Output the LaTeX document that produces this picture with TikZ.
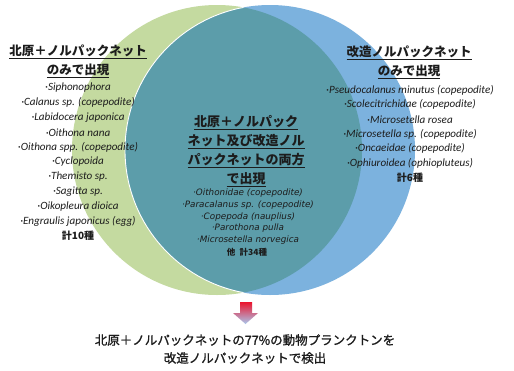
\documentclass[tikz,border=0pt]{standalone}
\usepackage{fontspec}
\setmainfont{Carlito}
\newfontfamily\jp{Noto Sans CJK JP}
\newfontfamily\jpm{Noto Sans CJK JP}[FakeBold=1.2]
\newfontfamily\cenit{DejaVu Sans}
\definecolor{greenc}{RGB}{196,218,160}
\definecolor{bluec}{RGB}{124,178,222}
\definecolor{tealc}{RGB}{92,157,170}
\definecolor{txt}{RGB}{28,28,28}
\definecolor{arrowtop}{RGB}{235,20,45}
\definecolor{arrowbot}{RGB}{170,200,238}
\tikzset{
  ttl/.style={inner sep=0pt, text=txt, font=\jp\bfseries\fontsize{12.5}{14}\selectfont},
  cttl/.style={inner sep=0pt, text=txt, font=\jp\bfseries\fontsize{13}{15}\selectfont},
  lst/.style={inner sep=0pt, text=txt, font=\itshape\fontsize{11.1}{12}\selectfont},
  clst/.style={inner sep=0pt, text=txt, font=\cenit\itshape\fontsize{8.8}{10}\selectfont},
  tot/.style={inner sep=0pt, text=txt, font=\jp\bfseries\fontsize{10}{12}\selectfont},
  ctot/.style={inner sep=0pt, text=txt, font=\jp\bfseries\fontsize{8.5}{10}\selectfont},
  btm/.style={inner sep=0pt, text=txt, font=\jpm\fontsize{12.5}{14}\selectfont},
}
\begin{document}
\begin{tikzpicture}[x=1pt,y=-1pt]
\useasboundingbox (0,0) rectangle (514,370);
\fill[white] (0,0) rectangle (514,370);
% circles
\fill[greenc] (217,150) circle (145pt);
\fill[bluec] (270,150) circle (145pt);
\begin{scope}
  \clip (217,150) circle (145pt);
  \fill[tealc] (270,150) circle (145pt);
  \draw[white, line width=0.9pt] (270,150) circle (145pt);
\end{scope}
% left group
\node[ttl] (lt1) at (78,52) {\underline{北原＋ノルパックネット}};
\node[ttl] (lt2) at (78,71) {\underline{のみで出現}};
\foreach \t [count=\i] in {{·Siphonophora},{·Calanus sp. (copepodite)},{·Labidocera japonica},{·Oithona nana},{·Oithona spp. (copepodite)},{·Cyclopoida},{·Themisto sp.},{·Sagitta sp.},{·Oikopleura dioica},{·Engraulis japonicus (egg)}}
  \node[lst] (ll\i) at (78,{88+14.8*(\i-1)}) {\t};
\node[tot] (ltot) at (78,236) {計10種};
% right group
\node[ttl] (rt1) at (409,53) {\underline{改造ノルパックネット}};
\node[ttl] (rt2) at (409,72) {\underline{のみで出現}};
\foreach \t [count=\i] in {{·Pseudocalanus minutus (copepodite)},{·Scolecitrichidae (copepodite)},{·Microsetella rosea},{·Microsetella sp. (copepodite)},{·Oncaeidae (copepodite)},{·Ophiuroidea (ophiopluteus)}}
  \node[lst] (rl\i) at (410,{90+14.7*(\i-1)}) {\t};
\node[tot] (rtot) at (410,178) {計6種};
% center group
\node[cttl] (ct1) at (246,123) {\underline{北原＋ノルパック}};
\node[cttl] (ct2) at (246,142) {\underline{ネット及び改造ノル}};
\node[cttl] (ct3) at (246,161) {\underline{パックネットの両方}};
\node[cttl] (ct4) at (246,180) {\underline{で出現}};
\foreach \t [count=\i] in {{·Oithonidae (copepodite)},{·Paracalanus sp. (copepodite)},{·Copepoda (nauplius)},{·Parothona pulla},{·Microsetella norvegica}}
  \node[clst] (cl\i) at (248,{193+11.8*(\i-1)}) {\t};
\node[ctot] (ctot) at (247,252) {他\hspace{0.5em}計34種};
% arrow
\shade[top color=arrowtop, bottom color=arrowbot]
  (240,302) -- (252,302) -- (252,313) -- (258,313) -- (245.5,324) -- (233,313) -- (240,313) -- cycle;
% bottom text
\node[btm] (b1) at (245,340) {北原＋ノルパックネットの77\%の動物プランクトンを};
\node[btm] (b2) at (245,358) {改造ノルパックネットで検出};
\end{tikzpicture}
\end{document}
